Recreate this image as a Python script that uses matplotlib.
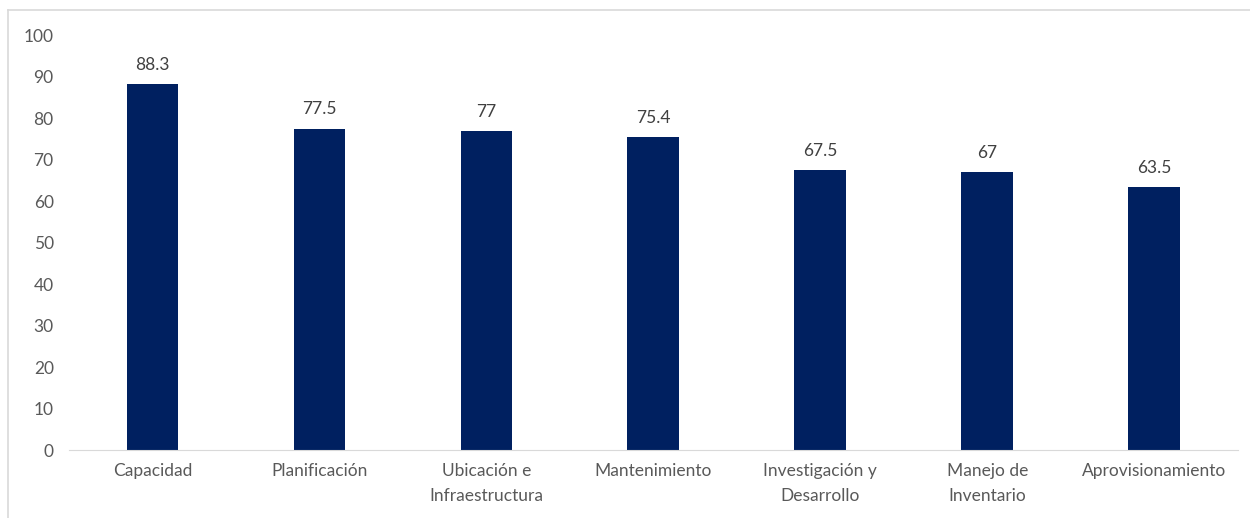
import matplotlib.pyplot as plt
from matplotlib.lines import Line2D

categorias = ["Capacidad", "Planificación", "Ubicación e\nInfraestructura", "Mantenimiento",
              "Investigación y\nDesarrollo", "Manejo de\nInventario", "Aprovisionamiento"]
valores = [88.3, 77.5, 77, 75.4, 67.5, 67, 63.5]
etiquetas = ["88.3", "77.5", "77", "75.4", "67.5", "67", "63.5"]

plt.rcParams["font.family"] = ["Lato", "DejaVu Sans"]

fig = plt.figure(figsize=(12.5, 5.18), dpi=100)
ax = fig.add_axes([0.0552, 0.131, 0.935, 0.801])

x = range(len(categorias))
barras = ax.bar(x, valores, width=0.31, color="#002060")

for b, txt in zip(barras, etiquetas):
    ax.annotate(txt, (b.get_x() + b.get_width() / 2, b.get_height()),
                xytext=(0, 8), textcoords="offset points",
                ha="center", va="bottom", fontsize=12.5, color="#404040")

ax.set_xlim(-0.5, len(categorias) - 0.5)
ax.set_ylim(0, 100)
ax.set_yticks(range(0, 101, 10))
ax.set_xticks(list(x))
ax.set_xticklabels(categorias, linespacing=1.75)
ax.tick_params(axis="y", length=0, pad=11, labelsize=12.5, labelcolor="#595959")
ax.tick_params(axis="x", length=0, pad=9, labelsize=12.5, labelcolor="#595959")

for s in ["top", "right", "left"]:
    ax.spines[s].set_visible(False)
ax.spines["bottom"].set_color("#d9d9d9")

# marco exterior del grafico
fig.add_artist(Line2D([0.0064, 0.0064], [0, 0.9807], color="#d9d9d9", lw=1.2))
fig.add_artist(Line2D([0.0064, 1.0], [0.9807, 0.9807], color="#d9d9d9", lw=1.2))

plt.savefig("out.png", dpi=100)
